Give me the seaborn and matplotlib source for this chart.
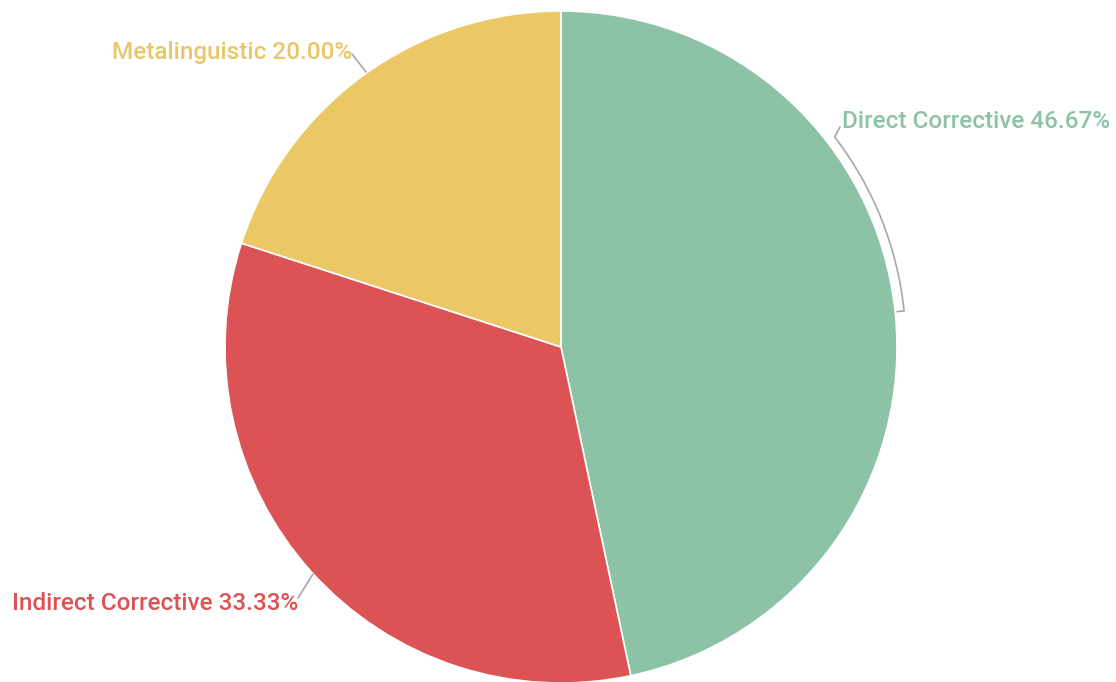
import matplotlib
matplotlib.use("Agg")
import matplotlib.pyplot as plt
import seaborn as sns
import numpy as np
from matplotlib.patches import Arc

categories = ["Direct Corrective", "Indirect Corrective", "Metalinguistic"]
values = [46.67, 33.33, 20.00]
colors = ["#8CC2A5", "#DC5356", "#EBC766"]
label_colors = ["#8CC2A5", "#DC5356", "#E8C76A"]

sns.set_theme(style="white")
plt.rcParams['font.family'] = ['Roboto', 'DejaVu Sans']

W, H = 1116, 682
fig = plt.figure(figsize=(W / 100, H / 100), dpi=100)
ax = fig.add_axes([0, 0, 1, 1])

cx, cy, R = 561, H - 347, 336
ax.pie(values, colors=colors, startangle=90, counterclock=False,
       center=(cx, cy), radius=R, frame=True,
       wedgeprops=dict(edgecolor="white", linewidth=1.2))
ax.set_xlim(0, W)
ax.set_ylim(0, H)
ax.set_aspect("equal")
ax.axis("off")

fs = 17.5
lc = "#A8A8A8"
# Direct Corrective label with arc leader
ax.text(842, H - 121, f"{categories[0]} {values[0]:.2f}%", color=label_colors[0],
        fontsize=fs, fontweight="medium", ha="left", va="center")
Ra = R + 9
ax.add_patch(Arc((cx, cy), 2 * Ra, 2 * Ra, theta1=6.0, theta2=37.5, color=lc, lw=1.2))
a1 = np.deg2rad(37.5)
ax.plot([cx + Ra * np.cos(a1), 840], [cy + Ra * np.sin(a1), H - 127], color=lc, lw=1.2)
a0 = np.deg2rad(6.0)
ax.plot([cx + Ra * np.cos(a0), cx + (R + 2) * np.cos(a0)],
        [cy + Ra * np.sin(a0), cy + (R + 2) * np.sin(a0)], color=lc, lw=1.2)

# Indirect Corrective
ax.text(12, H - 603, f"{categories[1]} {values[1]:.2f}%", color=label_colors[1],
        fontsize=fs, fontweight="medium", ha="left", va="center")
ax.plot([298, 313], [H - 598, H - 574], color=lc, lw=1.2)

# Metalinguistic
ax.text(352, H - 52, f"{categories[2]} {values[2]:.2f}%", color=label_colors[2],
        fontsize=fs, fontweight="medium", ha="right", va="center")
ax.plot([352, 366], [H - 54, H - 72], color=lc, lw=1.2)

fig.savefig("out.png", dpi=100, facecolor="white")
